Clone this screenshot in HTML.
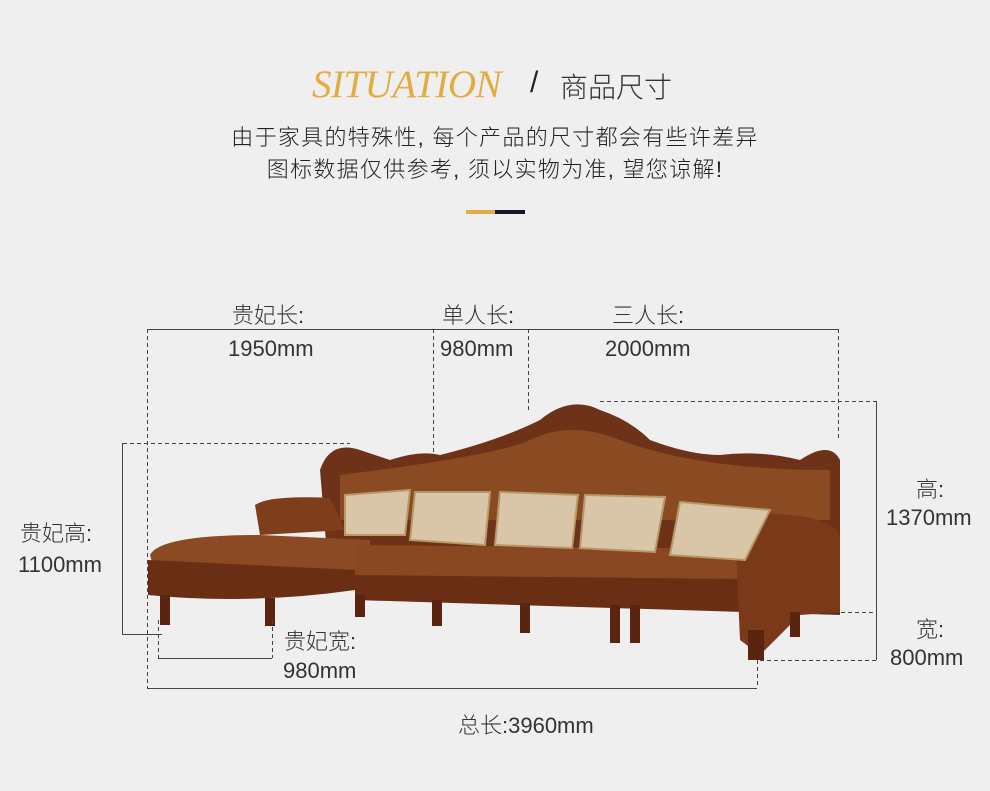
<!DOCTYPE html>
<html><head><meta charset="utf-8"><style>
body{margin:0;width:990px;height:791px;background:#efefef;overflow:hidden;position:relative;font-family:"Liberation Sans","Noto Sans CJK SC",sans-serif;color:#333}
.t{position:absolute;white-space:nowrap}
</style></head><body>
<div class="t" style="left:312px;top:62px;font-family:'Liberation Serif',serif;font-style:italic;font-size:39px;color:#e2ac41;letter-spacing:-0.5px">SITUATION</div>
<div class="t" style="left:530px;top:66px;font-size:30px;color:#222">/</div>
<div class="t" style="left:560px;top:66px;font-size:28px;color:#333;font-weight:300">商品尺寸</div>
<div class="t" style="left:0;width:990px;text-align:center;top:122px;font-size:22px;line-height:32px;color:#222;font-weight:300;letter-spacing:1.3px">由于家具的特殊性, 每个产品的尺寸都会有些许差异<br>图标数据仅供参考, 须以实物为准, 望您谅解!</div>
<div style="position:absolute;left:466px;top:210px;width:29px;height:4px;background:#e2ac41"></div>
<div style="position:absolute;left:495px;top:210px;width:30px;height:4px;background:#14142a"></div>

<svg width="990" height="791" style="position:absolute;left:0;top:0">
<g fill="#7a3a1c">
<path d="M320 470 Q330 440 360 450 L390 460 Q420 450 440 455 Q500 440 540 420 Q570 395 600 410 Q630 420 650 440 Q690 455 720 455 Q760 450 800 460 Q830 440 840 460 L840 590 L330 590 Z" fill="#6e3218"/>
<path d="M340 475 Q500 455 530 440 Q570 420 620 440 Q700 470 830 470 L830 520 L340 520 Z" fill="#8a4a22"/>
<path d="M150 555 Q160 535 260 535 L370 540 L370 585 Q300 600 160 590 Z" fill="#8c4a24"/>
<path d="M148 560 L148 595 Q250 605 355 590 L355 570 Z" fill="#6a2e14"/>
<path d="M255 505 Q270 495 330 498 L345 530 L260 535 Z" fill="#7e3e1c"/>
<path d="M355 545 L840 550 L840 600 L355 595 Z" fill="#8a4822"/>
<path d="M355 575 L840 580 L840 615 L355 600 Z" fill="#6a2e14"/>
<path d="M735 525 Q750 510 790 515 Q840 520 840 540 L840 612 L800 615 L760 655 L740 640 Z" fill="#7a3a1a"/>
<rect x="160" y="595" width="10" height="30" fill="#5a2410"/>
<rect x="265" y="598" width="10" height="28" fill="#5a2410"/>
<rect x="355" y="595" width="10" height="22" fill="#5a2410"/>
<rect x="432" y="600" width="10" height="26" fill="#5a2410"/>
<rect x="520" y="603" width="10" height="30" fill="#5a2410"/>
<rect x="610" y="605" width="10" height="38" fill="#5a2410"/>
<rect x="630" y="605" width="10" height="38" fill="#5a2410"/>
<rect x="790" y="612" width="10" height="25" fill="#5a2410"/>
<rect x="748" y="630" width="16" height="30" fill="#5a2410"/>
</g>
<g fill="#d9c6a8" stroke="#b89868" stroke-width="2">
<path d="M345 495 L410 490 L405 535 L345 535 Z"/>
<path d="M415 492 L490 492 L485 545 L410 540 Z"/>
<path d="M500 492 L578 495 L572 548 L495 545 Z"/>
<path d="M585 495 L665 497 L655 552 L580 548 Z"/>
<path d="M680 502 L770 510 L745 560 L670 555 Z"/>
</g>
<g stroke="#444" stroke-width="1" fill="none">
<line x1="147" y1="329.5" x2="838" y2="329.5"/>
<line x1="123" y1="443.5" x2="350" y2="443.5" stroke-dasharray="4,3"/>
<line x1="122.5" y1="443" x2="122.5" y2="635"/>
<line x1="122" y1="634.5" x2="162" y2="634.5"/>
<line x1="158" y1="658.5" x2="272" y2="658.5"/>
<line x1="147" y1="688.5" x2="757" y2="688.5"/>
<line x1="876.5" y1="401" x2="876.5" y2="660"/>
<g stroke-dasharray="4,3">
<line x1="147.5" y1="329" x2="147.5" y2="688"/>
<line x1="433.5" y1="329" x2="433.5" y2="455"/>
<line x1="528.5" y1="329" x2="528.5" y2="410"/>
<line x1="838.5" y1="329" x2="838.5" y2="440"/>
<line x1="600" y1="401.5" x2="876" y2="401.5"/>
<line x1="820" y1="612.5" x2="876" y2="612.5"/>
<line x1="760" y1="660.5" x2="876" y2="660.5"/>
<line x1="757.5" y1="660" x2="757.5" y2="688"/>
<line x1="158.5" y1="620" x2="158.5" y2="658"/>
<line x1="272.5" y1="620" x2="272.5" y2="658"/>
</g>
</g>
</svg>
<div class="t" style="left:232px;top:298px;font-size:22px;font-weight:300">贵妃长:</div>
<div class="t" style="left:228px;top:336px;font-size:22px;font-weight:300">1950mm</div>
<div class="t" style="left:442px;top:298px;font-size:22px;font-weight:300">单人长:</div>
<div class="t" style="left:440px;top:336px;font-size:22px;font-weight:300">980mm</div>
<div class="t" style="left:612px;top:298px;font-size:22px;font-weight:300">三人长:</div>
<div class="t" style="left:605px;top:336px;font-size:22px;font-weight:300">2000mm</div>
<div class="t" style="left:916px;top:472px;font-size:22px;font-weight:300">高:</div>
<div class="t" style="left:886px;top:505px;font-size:22px;font-weight:300">1370mm</div>
<div class="t" style="left:20px;top:516px;font-size:22px;font-weight:300">贵妃高:</div>
<div class="t" style="left:18px;top:552px;font-size:22px;font-weight:300">1100mm</div>
<div class="t" style="left:916px;top:612px;font-size:22px;font-weight:300">宽:</div>
<div class="t" style="left:890px;top:645px;font-size:22px;font-weight:300">800mm</div>
<div class="t" style="left:284px;top:624px;font-size:22px;font-weight:300">贵妃宽:</div>
<div class="t" style="left:283px;top:658px;font-size:22px;font-weight:300">980mm</div>
<div class="t" style="left:458px;top:708px;font-size:22px;font-weight:300">总长:3960mm</div>
</body></html>
